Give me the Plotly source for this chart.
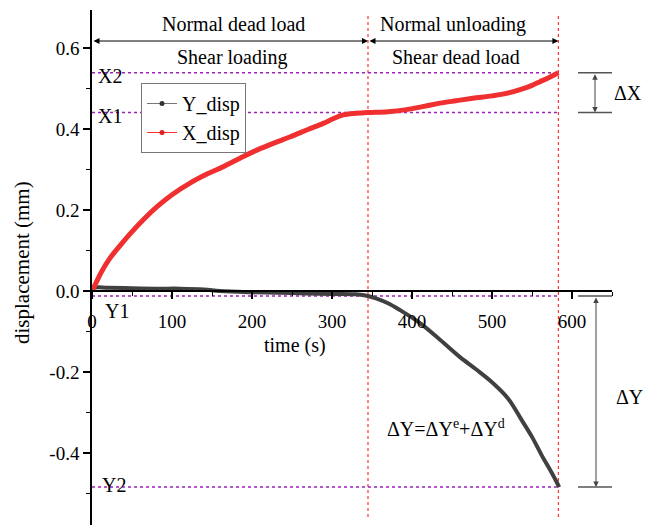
import plotly.graph_objects as go

# ---------------- data ----------------
time_x = [0, 5, 12, 22, 35, 47, 65, 81, 100, 122, 145, 164, 185, 206, 228, 248,
          270, 289, 302, 314, 330, 345, 370, 393, 415, 435, 455, 476, 500, 518,
          539, 550, 560, 572, 583]
x_disp = [0, 0.02, 0.048, 0.08, 0.112, 0.14, 0.178, 0.208, 0.238, 0.266, 0.29,
          0.307, 0.328, 0.348, 0.366, 0.381, 0.399, 0.414, 0.426, 0.435, 0.439,
          0.441, 0.443, 0.448, 0.456, 0.464, 0.47, 0.476, 0.482, 0.488,
          0.5, 0.508, 0.517, 0.528, 0.539]

time_y = [0, 3, 20, 50, 80, 110, 140, 160, 200, 250, 300, 330, 345, 355, 370, 385,
          410, 435, 460, 480, 500, 520, 536, 550, 562, 575, 584]
y_disp = [0, 0.008, 0.008, 0.007, 0.006, 0.006, 0.004, 0.0, -0.003, -0.005, -0.007,
          -0.008, -0.012, -0.018, -0.03, -0.047, -0.079, -0.12, -0.163, -0.193,
          -0.225, -0.265, -0.315, -0.36, -0.405, -0.45, -0.484]

phase_bounds = [345, 583]          # end of phase 1, end of phase 2 (s)
x_ticks = [0, 100, 200, 300, 400, 500, 600]
y_ticks = [-0.4, -0.2, 0.0, 0.2, 0.4, 0.6]
y_tick_text = ["-0.4", "-0.2", "0.0", "0.2", "0.4", "0.6"]

X_RANGE = [0, 650]
Y_RANGE = [-0.5776, 0.694]

# reference levels taken from the series
X1 = x_disp[time_x.index(phase_bounds[0])]
X2 = x_disp[-1]
Y1 = y_disp[time_y.index(phase_bounds[0])]
Y2 = y_disp[-1]

FONT = "Liberation Serif"
OFF = 8                      # page body margin of the html page
PAGE_W, PAGE_H = 652, 525
W, H = PAGE_W - OFF, PAGE_H - OFF
PLOT_L, PLOT_R, PLOT_T, PLOT_B = 92, 612, 10, 525   # plot area in page pixels
ML, MR, MT, MB = PLOT_L - OFF, PAGE_W - PLOT_R, PLOT_T - OFF, PAGE_H - PLOT_B
PW, PH = PLOT_R - PLOT_L, PLOT_B - PLOT_T


def px_x(px):
    return (px - PLOT_L) / PW


def px_y(py):
    return 1 - (py - PLOT_T) / PH


def val_y(v):
    return (v - Y_RANGE[0]) / (Y_RANGE[1] - Y_RANGE[0])


fig = go.Figure()

fig.add_trace(go.Scatter(x=time_y, y=y_disp, mode="lines", line=dict(color="#404040", width=4, shape="spline", smoothing=1.0),
                         showlegend=False, hoverinfo="skip"))
fig.add_trace(go.Scatter(x=time_x, y=x_disp, mode="lines", line=dict(color="#f03030", width=5, shape="spline", smoothing=1.0),
                         showlegend=False, hoverinfo="skip"))
# legend entries
fig.add_trace(go.Scatter(x=[None], y=[None], mode="lines+markers", name="Y_disp",
                         line=dict(color="#777777", width=1), marker=dict(color="#333333", size=5)))
fig.add_trace(go.Scatter(x=[None], y=[None], mode="lines+markers", name="X_disp",
                         line=dict(color="#ff3030", width=1), marker=dict(color="#e02020", size=5)))

shapes = []
# purple reference lines
for lvl in [X2, X1, Y1, Y2]:
    shapes.append(dict(type="line", xref="x", yref="y", x0=0, x1=phase_bounds[1], y0=lvl, y1=lvl,
                       line=dict(color="#a020c0", width=1.5, dash="dot"), layer="below"))
# red phase lines
for tb in phase_bounds:
    shapes.append(dict(type="line", xref="x", yref="paper", x0=tb, x1=tb, y0=px_y(517), y1=px_y(13),
                       line=dict(color="#ff3333", width=1.2, dash="dot"), layer="below"))
# right-side brackets
for lvl in [X2, X1, Y1, Y2]:
    shapes.append(dict(type="line", xref="paper", yref="paper", x0=px_x(578), x1=px_x(612),
                       y0=val_y(lvl), y1=val_y(lvl), line=dict(color="#555555", width=1.5)))

annotations = []
# top phase arrows
annotations.append(dict(xref="x", yref="paper", axref="x", ayref="pixel", x=phase_bounds[0], y=px_y(41),
                        ax=0, ay=0, text="", showarrow=True, arrowside="end+start",
                        arrowhead=2, startarrowhead=2, arrowsize=1.2, startarrowsize=1.2, arrowwidth=1, arrowcolor="black"))
annotations.append(dict(xref="x", yref="paper", axref="x", ayref="pixel", x=phase_bounds[1], y=px_y(41),
                        ax=phase_bounds[0], ay=0, text="", showarrow=True, arrowside="end+start",
                        arrowhead=2, startarrowhead=2, arrowsize=1.2, startarrowsize=1.2, arrowwidth=1, arrowcolor="black"))
# vertical delta arrows
annotations.append(dict(xref="paper", yref="paper", axref="pixel", ayref="pixel", x=px_x(595), y=val_y(X1),
                        ax=0, ay=-(val_y(X2) - val_y(X1)) * PH, text="", showarrow=True, arrowside="end+start",
                        arrowhead=2, startarrowhead=2, arrowsize=1.1, startarrowsize=1.1, arrowwidth=1, arrowcolor="#444444"))
annotations.append(dict(xref="paper", yref="paper", axref="pixel", ayref="pixel", x=px_x(596), y=val_y(Y2),
                        ax=0, ay=-(val_y(Y1) - val_y(Y2)) * PH, text="", showarrow=True, arrowside="end+start",
                        arrowhead=2, startarrowhead=2, arrowsize=1.1, startarrowsize=1.1, arrowwidth=1, arrowcolor="#444444"))

def label(text, x, y, xanchor="center", size=20, **kw):
    annotations.append(dict(text=text, xref="paper", yref="paper", x=px_x(x), y=px_y(y), xanchor=xanchor,
                            yanchor="middle", showarrow=False, font=dict(family=FONT, size=size, color="black"), **kw))

label("Normal dead load", 233, 24)
label("Shear loading", 232, 57)
label("Normal unloading", 453, 24)
label("Shear dead load", 456, 57)
label("X2", 96, 76, xanchor="left")
label("X1", 96, 116, xanchor="left")
label("Y1", 103, 311, xanchor="left")
label("Y2", 100, 485, xanchor="left")
label("ΔX", 612, 93, xanchor="left")
label("ΔY", 614, 397, xanchor="left")
label("ΔY=ΔY<sup>e</sup>+ΔY<sup>d</sup>", 446, 428)
label("time (s)", 295, 345)
label("displacement (mm)", 22, 263, size=21, textangle=-90)

fig.update_layout(
    width=W, height=H,
    margin=dict(l=ML, r=MR, t=MT, b=MB, pad=0, autoexpand=False),
    paper_bgcolor="white", plot_bgcolor="white",
    font=dict(family=FONT, size=19, color="black"),
    shapes=shapes, annotations=annotations,
    legend=dict(x=px_x(141), y=px_y(83), xanchor="left", yanchor="top", bgcolor="white",
                bordercolor="#777777", borderwidth=1, font=dict(family=FONT, size=20, color="black")),
    xaxis=dict(range=X_RANGE, anchor="free", position=val_y(0), showline=True, linecolor="black", linewidth=1.5,
               ticks="outside", ticklen=7, tickwidth=1.5, tickcolor="black", tickvals=x_ticks,
               ticklabelstandoff=6, showgrid=False, zeroline=False, automargin=False,
               minor=dict(dtick=50, ticklen=4, tickwidth=1.2, tickcolor="black", showgrid=False),
               tickfont=dict(family=FONT, size=19)),
    yaxis=dict(range=Y_RANGE, showline=True, linecolor="black", linewidth=1.5, ticks="outside", ticklen=7,
               tickwidth=1.5, tickcolor="black", tickvals=y_ticks, ticktext=y_tick_text,
               showgrid=False, zeroline=False, automargin=False,
               minor=dict(dtick=0.1, ticklen=4, tickwidth=1.2, tickcolor="black", showgrid=False),
               tickfont=dict(family=FONT, size=19)),
)

fig.write_html("out.html")
